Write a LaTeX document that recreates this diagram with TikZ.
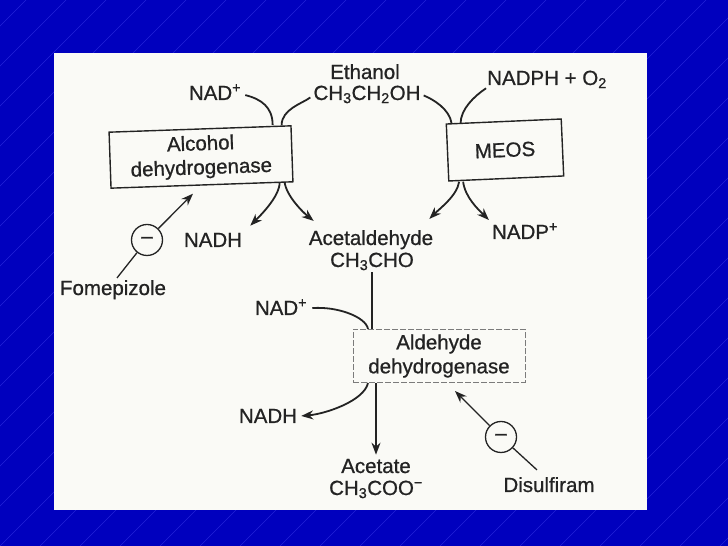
\documentclass[tikz,border=0pt]{standalone}
\usepackage{fontspec}
\setmainfont{Liberation Sans}[FakeBold=0.8]
\usetikzlibrary{arrows.meta}

\definecolor{slideblue}{RGB}{0,0,190}
\definecolor{stripeblue}{RGB}{35,35,215}
\definecolor{paper}{RGB}{250,250,246}
\definecolor{ink}{RGB}{35,35,35}

\begin{document}
\begin{tikzpicture}[
    x=1bp, y=1bp,
    every node/.style={font=\fontsize{20.5bp}{24bp}\selectfont, text=ink},
    >={Stealth[length=12bp,width=9bp]},
    chem/.style={anchor=base, inner sep=0pt},
    enzyme/.style={draw=ink, line width=1.4bp, align=center, inner sep=0pt},
    inhib/.style={circle, draw=ink, line width=1.3bp, minimum size=31bp, inner sep=0pt},
    flow/.style={draw=ink, line width=1.8bp},
]
\useasboundingbox (0,0) rectangle (728,546);

% === Slide background ===
\fill[slideblue] (0,0) rectangle (728,546);
\begin{scope}
    \clip (0,0) rectangle (728,546);
    \foreach \s in {-560,-520,...,730}
        \draw[stripeblue, line width=0.4bp] (\s,0) -- ++(546,546);
\end{scope}
\fill[paper] (54,36) rectangle (647,493);

% === Ethanol and the two oxidising enzymes ===
\node[chem] (ethanol) at (365,467) {Ethanol};
\node[chem] (etoh) at (367,446) {CH\textsubscript{3}CH\textsubscript{2}OH};
\node[chem] (nadA) at (215,446) {NAD\textsuperscript{+}};
\node[chem] (nadph) at (547,461) {NADPH + O\textsubscript{2}};

\node[enzyme, minimum width=182bp, minimum height=56bp, rotate=2] (adh) at (201,389) {Alcohol\\dehydrogenase};
\node[enzyme, minimum width=115bp, minimum height=57bp, rotate=2.5] (meos) at (505,396) {MEOS};

\node[chem] (nadhA) at (213,299) {NADH};
\node[chem] (acetal) at (371,301) {Acetaldehyde};
\node[chem] (ch3cho) at (372,279) {CH\textsubscript{3}CHO};
\node[chem] (nadp) at (525,307) {NADP\textsuperscript{+}};

% Alcohol dehydrogenase: cofactor in, products out
\draw[flow] ([xshift=4bp,yshift=-3bp]nadA.east) .. controls +(16,-4) and +(0,18) .. ([xshift=-19bp]adh.north east);
\draw[flow] ([xshift=-3bp,yshift=-3bp]etoh.west) .. controls +(-8,-6) and +(0,16) .. ([xshift=-10bp]adh.north east);
\draw[flow,->] ([xshift=-14bp]adh.south east) .. controls +(0,-14) and +(10,10) .. ([xshift=8bp,yshift=7bp]nadhA.north east);
\draw[flow,->] ([xshift=-9bp]adh.south east) .. controls +(2,-14) and +(-10,8) .. ([xshift=5bp,yshift=9bp]acetal.north west);

% MEOS
\draw[flow] ([xshift=3bp,yshift=-1bp]etoh.east) .. controls +(10,-4) and +(-2,14) .. ([xshift=6bp]meos.north west);
\draw[flow] ([xshift=-1bp]nadph.south west) .. controls +(-12,-8) and +(0,14) .. ([xshift=15bp]meos.north west);
\draw[flow,->] ([xshift=11bp]meos.south west) .. controls +(-2,-14) and +(10,10) .. ([xshift=-4bp,yshift=11bp]acetal.north east);
\draw[flow,->] ([xshift=15bp]meos.south west) .. controls +(2,-16) and +(-10,10) .. ([xshift=-3bp,yshift=3bp]nadp.north west);

% Fomepizole blocks alcohol dehydrogenase
\node[chem] (fome) at (113,251) {Fomepizole};
\node[inhib] (inhA) at (147,306) {–};
\draw[flow, line width=1.3bp] ([xshift=4bp,yshift=2bp]fome.north) -- (inhA);
\draw[flow, line width=1.3bp, ->] (inhA) -- ([xshift=-9bp,yshift=-8bp]adh.south);

% === Acetaldehyde to acetate ===
\node[chem] (nadB) at (281,231) {NAD\textsuperscript{+}};
\node[enzyme, draw=ink!60, line width=1bp, dash pattern=on 6bp off 2bp,
      minimum width=172bp, minimum height=53bp] (aldh) at (439,190) {Aldehyde\\dehydrogenase};
\node[chem] (nadhB) at (268,123) {NADH};
\node[chem] (acetate) at (376,73) {Acetate};
\node[chem] (ch3coo) at (376,51) {CH\textsubscript{3}COO\textsuperscript{−}};

\draw[flow] ([yshift=-2bp]ch3cho.south) -- (ch3cho.south |- aldh.north);
\draw[flow] ([xshift=5bp,yshift=-1bp]nadB.east) .. controls +(25,2) and +(-2,12) .. ([xshift=-4bp]ch3cho.south |- aldh.north);
\draw[flow,->] (aldh.south -| acetate.north) -- ([yshift=4bp]acetate.north);
\draw[flow,->] ([xshift=-8bp]aldh.south -| acetate.north) .. controls +(-4,-18) and +(24,2) .. ([xshift=4bp]nadhB.east);

% Disulfiram blocks aldehyde dehydrogenase
\node[inhib] (inhB) at (501,109) {–};
\node[chem] (disul) at (549,54) {Disulfiram};
\draw[flow, line width=1.3bp] ([xshift=-12bp,yshift=7bp]disul.north) -- (inhB);
\draw[flow, line width=1.3bp, ->] (inhB) -- ([xshift=16bp,yshift=-8bp]aldh.south);

\end{tikzpicture}
\end{document}
